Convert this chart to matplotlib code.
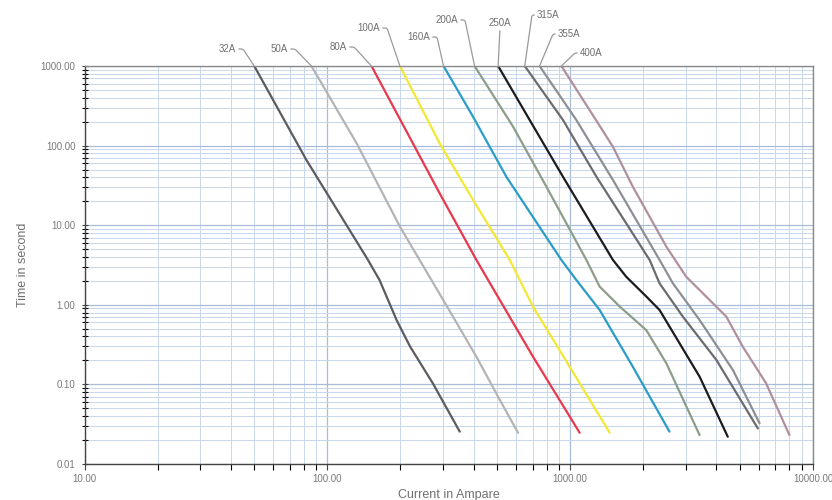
import matplotlib.pyplot as plt
from matplotlib.ticker import FixedLocator, FixedFormatter, LogLocator, NullFormatter

ratings = ['32A', '50A', '80A', '100A', '160A', '200A', '250A', '315A', '355A', '400A']

i_32 = [50, 82, 147, 164, 193, 219, 272, 351]
t_32 = [1000, 66, 3.66, 2.05, 0.64, 0.30, 0.103, 0.0255]

i_50 = [86, 132, 199, 300, 411, 513, 610]
t_50 = [1000, 107, 9.6, 1.15, 0.223, 0.064, 0.0247]

i_80 = [152, 225, 290, 411, 513, 703, 1094]
t_80 = [1000, 107, 25.2, 3.66, 1.15, 0.223, 0.0247]

i_100 = [199, 290, 398, 564, 620, 703, 995, 1455]
t_100 = [1000, 107, 20.8, 3.66, 2.05, 0.95, 0.167, 0.0247]

i_160 = [301, 398, 546, 920, 1060, 1323, 1811, 2564]
t_160 = [1000, 231, 40.6, 3.66, 2.05, 0.86, 0.167, 0.0255]

i_200 = [404, 582, 798, 1166, 1323, 1600, 2059, 2490, 3412]
t_200 = [1000, 173, 30.5, 3.66, 1.69, 0.95, 0.48, 0.184, 0.0231]

i_250 = [505, 681, 934, 1500, 1702, 2059, 2334, 2822, 3412, 4457]
t_250 = [1000, 210, 40.6, 3.66, 2.25, 1.27, 0.86, 0.328, 0.125, 0.022]

i_315 = [650, 934, 1283, 2124, 2334, 2911, 4000, 5927]
t_315 = [1000, 210, 40.6, 3.66, 1.86, 0.71, 0.203, 0.028]

i_355 = [748, 1060, 1500, 2334, 2649, 3412, 4677, 6026]
t_355 = [1000, 210, 37, 3.66, 1.86, 0.644, 0.152, 0.0324]

i_400 = [920, 1202, 1500, 1811, 2490, 3006, 3750, 4395, 5137, 6412, 7998]
t_400 = [1000, 280, 96.8, 30.5, 5.37, 2.25, 1.15, 0.71, 0.298, 0.103, 0.0231]

currents = [i_32, i_50, i_80, i_100, i_160, i_200, i_250, i_315, i_355, i_400]
times = [t_32, t_50, t_80, t_100, t_160, t_200, t_250, t_315, t_355, t_400]

cores = ['#5c5c60', '#b4b4b4', '#e8384c', '#f2e834', '#2a9cc8',
         '#8c9e88', '#1c1c20', '#6c6c70', '#8c9096', '#b0909c']

# Posição dos rótulos (pixels da figura) e lado da linha de chamada
label_pos = [(236, 451), (288, 451), (347, 453), (380, 472), (430, 463),
             (458, 480), (500, 477), (537, 485), (558, 466), (580, 447)]
label_lado = ['L', 'L', 'L', 'L', 'L', 'L', 'V', 'R', 'R', 'R']

x_ticks = [10, 100, 1000, 10000]
x_labels = ['10.00', '100.00', '1000.00', '10000.00']
y_ticks = [0.01, 0.1, 1, 10, 100, 1000]
y_labels = ['0.01', '0.10', '1.00', '10.00', '100.00', '1000.00']

plt.rcParams['font.family'] = ['Liberation Sans Narrow', 'Liberation Sans', 'DejaVu Sans']

fig = plt.figure(figsize=(8.32, 5), dpi=100)
ax = fig.add_axes([84.5 / 832, 36 / 500, (813 - 84.5) / 832, (464 - 66) / 500])

ax.set_xscale('log')
ax.set_yscale('log')
ax.set_xlim(10, 10000)
ax.set_ylim(0.01, 1000)

# Grade principal e secundária em azul claro
ax.grid(which='major', color='#a9bcd6', linewidth=0.9)
ax.grid(which='minor', color='#c8d7eb', linewidth=0.7)
ax.set_axisbelow(True)

for i, t, c in zip(currents, times, cores):
    ax.plot(i, t, color=c, linewidth=1.6, solid_capstyle='round', solid_joinstyle='round')

ax.xaxis.set_major_locator(FixedLocator(x_ticks))
ax.xaxis.set_major_formatter(FixedFormatter(x_labels))
ax.yaxis.set_major_locator(FixedLocator(y_ticks))
ax.yaxis.set_major_formatter(FixedFormatter(y_labels))
ax.xaxis.set_minor_locator(LogLocator(base=10, subs=range(2, 10), numticks=20))
ax.yaxis.set_minor_locator(LogLocator(base=10, subs=range(2, 10), numticks=20))
ax.xaxis.set_minor_formatter(NullFormatter())
ax.yaxis.set_minor_formatter(NullFormatter())

ax.tick_params(axis='both', which='major', labelsize=7, labelcolor='#7a7a7a', color='#444444')
ax.tick_params(axis='y', which='both', direction='inout', length=5, width=0.8)
ax.tick_params(axis='x', which='both', direction='out', length=4, width=0.8, pad=3)
ax.tick_params(axis='y', which='major', pad=4)

ax.spines['left'].set_color('#444444')
ax.spines['bottom'].set_color('#444444')
ax.spines['top'].set_color('#8a8a8a')
ax.spines['right'].set_color('#8a8a8a')
for s in ax.spines.values():
    s.set_linewidth(1.0)

ax.set_xlabel('Current in Ampare', fontsize=9, color='#707070', labelpad=4)
ax.set_ylabel('Time in second', fontsize=9, color='#707070', labelpad=8)

# Rótulos com linhas de chamada até o topo de cada curva
for nome, i, t, pos, lado in zip(ratings, currents, times, label_pos, label_lado):
    if lado == 'L':
        estilo = 'arc,angleA=0,armA=7,angleB=90,armB=0,rad=2'
        ha, rel = 'right', (1, 0.5)
    elif lado == 'R':
        estilo = 'arc,angleA=180,armA=5,angleB=90,armB=0,rad=2'
        ha, rel = 'left', (0, 0.5)
    else:
        estilo = 'arc3'
        ha, rel = 'center', (0.5, 0)
    ax.annotate(nome, xy=(i[0], t[0]), xytext=pos, textcoords='figure pixels',
                fontsize=7, color='#707070', ha=ha, va='center',
                arrowprops=dict(arrowstyle='-', color='#9a9a9a', linewidth=0.9,
                                connectionstyle=estilo, relpos=rel,
                                shrinkA=0, shrinkB=0),
                annotation_clip=False)

fig.savefig('out.png', dpi=100, facecolor='white')
